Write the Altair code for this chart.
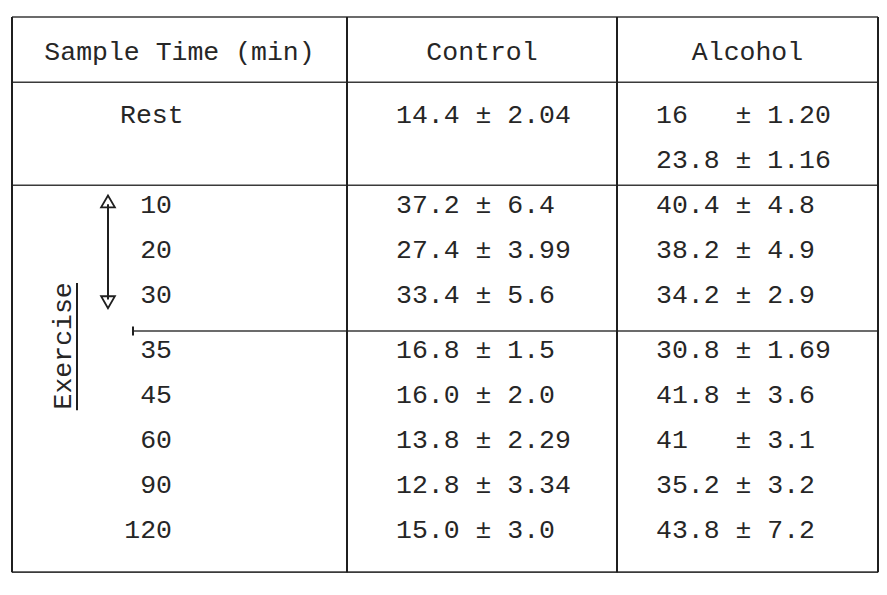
import altair as alt
import pandas as pd

# ---- table content ----
headers = ["Sample Time (min)", "Control", "Alcohol"]
times = ["Rest", "", "10", "20", "30", "35", "45", "60", "90", "120"]
control = ["14.4 ± 2.04", "", "37.2 ± 6.4", "27.4 ± 3.99", "33.4 ± 5.6",
           "16.8 ± 1.5", "16.0 ± 2.0", "13.8 ± 2.29", "12.8 ± 3.34", "15.0 ± 3.0"]
alcohol = ["16\u00a0\u00a0\u00a0± 1.20", "23.8 ± 1.16", "40.4 ± 4.8", "38.2 ± 4.9",
           "34.2 ± 2.9", "30.8 ± 1.69", "41.8 ± 3.6", "41\u00a0\u00a0\u00a0± 3.1",
           "35.2 ± 3.2", "43.8 ± 7.2"]
side_label = "Exercise"

# ---- layout (x in page pixels, y in row units) ----
col_edges = [12, 347, 617, 878]
top_edge, bottom_edge = -1.18, 11.16
header_row = -0.4
section_gap = 0.22          # extra space below the 30-min line
x_time_right = 172
x_rest_left = 120
x_control_left = 396
x_alcohol_left = 656

FONT = "Liberation Mono"
FS = 26.5
INK = "#262626"
LINE = "#3a3a3a"

row_pos = [i + 1 + (section_gap if i >= 5 else 0) for i in range(len(times))]

xs = alt.Scale(domain=[8, 879], nice=False, zero=False)
ys = alt.Scale(domain=[-1.38, 11.49], reverse=True, nice=False, zero=False)


def enc(**kw):
    out = {}
    for k, v in kw.items():
        if k == "x":
            out[k] = alt.X(v, scale=xs, axis=None)
        elif k == "x2":
            out[k] = alt.X2(v)
        elif k == "y":
            out[k] = alt.Y(v, scale=ys, axis=None)
        elif k == "y2":
            out[k] = alt.Y2(v)
        else:
            out[k] = v
    return out

# horizontal rules
hrules = pd.DataFrame({
    "y": [top_edge, 0.27, 2.56, 5.8, bottom_edge],
    "x": [col_edges[0], col_edges[0], col_edges[0], 133, col_edges[0]],
    "x2": [col_edges[3]] * 5,
})
# vertical rules (borders, column dividers, small tick at separator start)
vrules = pd.DataFrame({
    "x": col_edges + [133],
    "y": [top_edge] * 4 + [5.7],
    "y2": [bottom_edge] * 4 + [5.9],
})

h_layer = alt.Chart(hrules).mark_rule(color=LINE, strokeWidth=1.6).encode(
    **enc(x="x:Q", x2="x2", y="y:Q"))
v_layer = alt.Chart(vrules).mark_rule(color="#1f1f1f", strokeWidth=2).encode(
    **enc(x="x:Q", y="y:Q", y2="y2"))

# header texts (centered in each column)
hdr = pd.DataFrame({
    "text": headers,
    "x": [(col_edges[i] + col_edges[i + 1]) / 2 for i in range(3)],
    "y": [header_row] * 3,
})
hdr_layer = alt.Chart(hdr).mark_text(font=FONT, fontSize=FS, color=INK,
                                     align="center", baseline="middle").encode(
    **enc(x="x:Q", y="y:Q", text="text:N"))

# sample times: numbers right aligned, "Rest" left aligned
tdf = pd.DataFrame({"text": times, "y": row_pos})
num_df = tdf[(tdf.text != "") & (tdf.text != "Rest")].assign(x=x_time_right)
rest_df = tdf[tdf.text == "Rest"].assign(x=x_rest_left)

num_layer = alt.Chart(num_df).mark_text(font=FONT, fontSize=FS, color=INK,
                                        align="right", baseline="middle").encode(
    **enc(x="x:Q", y="y:Q", text="text:N"))
rest_layer = alt.Chart(rest_df).mark_text(font=FONT, fontSize=FS, color=INK,
                                          align="left", baseline="middle").encode(
    **enc(x="x:Q", y="y:Q", text="text:N"))

vals = pd.concat([
    pd.DataFrame({"text": control, "y": row_pos, "x": x_control_left}),
    pd.DataFrame({"text": alcohol, "y": row_pos, "x": x_alcohol_left}),
])
vals = vals[vals.text != ""]
val_layer = alt.Chart(vals).mark_text(font=FONT, fontSize=FS, color=INK,
                                      align="left", baseline="middle").encode(
    **enc(x="x:Q", y="y:Q", text="text:N"))

# "Exercise" vertical label with underline
ex_df = pd.DataFrame({"text": [side_label], "x": [63], "y": [6.13]})
ex_layer = alt.Chart(ex_df).mark_text(font=FONT, fontSize=FS, color=INK, angle=270,
                                      align="center", baseline="middle").encode(
    **enc(x="x:Q", y="y:Q", text="text:N"))
ex_line = alt.Chart(pd.DataFrame({"x": [77], "y": [4.73], "y2": [7.56]})).mark_rule(
    color="#1f1f1f", strokeWidth=2).encode(**enc(x="x:Q", y="y:Q", y2="y2"))

# double-headed arrow
arr_line = alt.Chart(pd.DataFrame({"x": [108], "y": [2.98], "y2": [5.1]})).mark_rule(
    color="#1f1f1f", strokeWidth=2).encode(**enc(x="x:Q", y="y:Q", y2="y2"))
arr_heads = alt.Chart(pd.DataFrame({
    "x": [108, 108], "y": [2.92, 5.16], "shape": ["triangle-up", "triangle-down"]
})).mark_point(filled=False, color="#1f1f1f", strokeWidth=1.8, size=190, opacity=1).encode(
    **enc(x="x:Q", y="y:Q"),
    shape=alt.Shape("shape:N", scale=None, legend=None))

chart = alt.layer(
    h_layer, v_layer, hdr_layer, num_layer, rest_layer, val_layer,
    ex_layer, ex_line, arr_line, arr_heads
).properties(
    width=871, height=579, padding=0,
    autosize=alt.AutoSizeParams(type="none"),
    background="white",
).configure_view(strokeWidth=0)

chart.save("out.html", embed_options={"renderer": "svg", "actions": False})
